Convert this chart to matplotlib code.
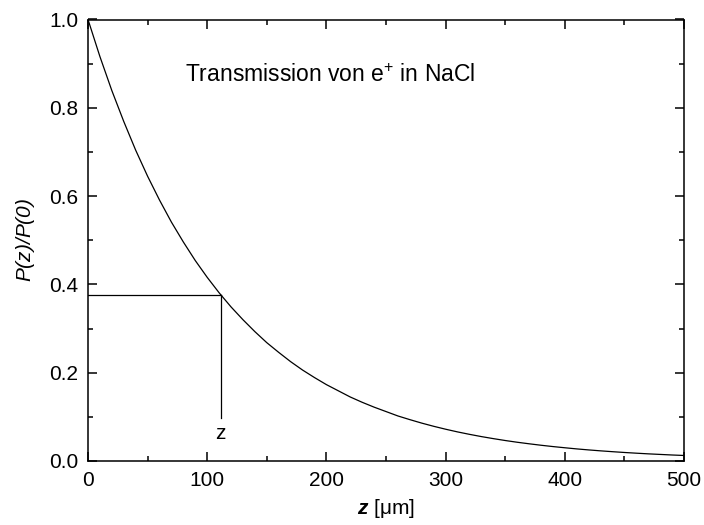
import matplotlib
matplotlib.use('Agg')
import matplotlib.pyplot as plt
from matplotlib.ticker import MultipleLocator

plt.rcParams['font.family'] = ['Liberation Sans', 'DejaVu Sans']
plt.rcParams['mathtext.fontset'] = 'custom'
plt.rcParams['mathtext.rm'] = 'Liberation Sans'
plt.rcParams['mathtext.it'] = 'Liberation Sans:italic'
plt.rcParams['mathtext.bfit'] = 'Liberation Sans:italic:bold'

# depth z [um] and relative intensity P(z)/P(0)
z_um = [0, 10, 20, 30, 40, 50, 60, 70, 80, 90,
        100, 110, 120, 130, 140, 150, 160, 170, 180, 190,
        200, 210, 220, 230, 240, 250, 260, 270, 280, 290,
        300, 310, 320, 330, 340, 350, 360, 370, 380, 390,
        400, 410, 420, 430, 440, 450, 460, 470, 480, 490, 500]
p_rel = [1.000, 0.916, 0.839, 0.769, 0.704, 0.645, 0.591, 0.541, 0.496, 0.454,
         0.416, 0.381, 0.349, 0.320, 0.293, 0.268, 0.246, 0.225, 0.206, 0.189,
         0.173, 0.159, 0.145, 0.133, 0.122, 0.112, 0.102, 0.0937, 0.0858, 0.0786,
         0.0720, 0.0659, 0.0604, 0.0553, 0.0507, 0.0464, 0.0425, 0.0390, 0.0357, 0.0327,
         0.0300, 0.0274, 0.0251, 0.0230, 0.0211, 0.0193, 0.0177, 0.0162, 0.0149, 0.0136, 0.0125]

# marked depth and its transmission
z_mark = 111.3
p_mark = 0.377
z_line_end = 0.097

fig = plt.figure(figsize=(7.04, 5.25), dpi=100)
ax = fig.add_axes([88 / 704, 1 - 461 / 525, 596 / 704, 441.5 / 525])

ax.plot(z_um, p_rel, color='black', lw=0.9)
ax.plot([0, z_mark], [p_mark, p_mark], color='black', lw=0.9)
ax.plot([z_mark, z_mark], [p_mark, z_line_end], color='black', lw=0.9)
ax.text(z_mark, 0.063, 'z', fontsize=15, ha='center', va='center')

ax.text(81.4, 0.858, r'Transmission von e$^{+}$ in NaCl', fontsize=16.5,
        ha='left', va='baseline')

ax.set_xlim(0, 500)
ax.set_ylim(0, 1.0)
ax.xaxis.set_major_locator(MultipleLocator(100))
ax.xaxis.set_minor_locator(MultipleLocator(50))
ax.yaxis.set_major_locator(MultipleLocator(0.2))
ax.yaxis.set_minor_locator(MultipleLocator(0.1))
ax.yaxis.set_major_formatter(plt.FuncFormatter(lambda v, _: f'{v:.1f}'))

ax.tick_params(which='both', direction='in', top=True, right=True,
               width=1.1, labelsize=15, colors='black')
ax.tick_params(which='major', length=6.5, pad=7)
ax.tick_params(which='minor', length=3.6)
for sp in ax.spines.values():
    sp.set_linewidth(1.1)

ax.set_xlabel('$\\mathbfit{z}$ [\u03bcm]', fontsize=15, labelpad=5)
ax.set_ylabel(r'$P$(z)/$P$(0)', fontsize=15, labelpad=9, style='italic')

fig.savefig('out.png', dpi=100)
